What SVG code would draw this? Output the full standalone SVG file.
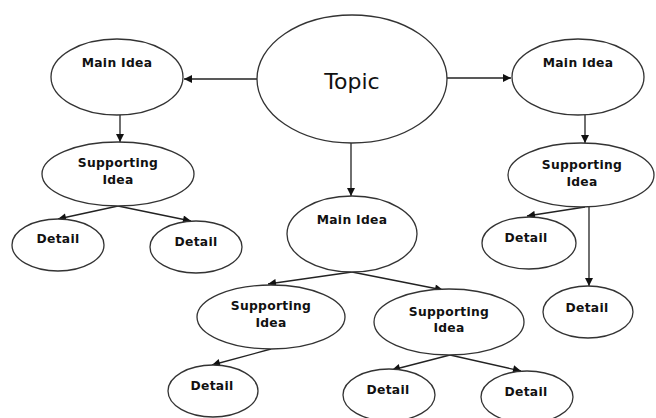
<svg xmlns="http://www.w3.org/2000/svg" width="656" height="418" viewBox="0 0 656 418">
<defs>
<marker id="ah" viewBox="0 0 10 10" refX="10" refY="5" markerWidth="9" markerHeight="8" markerUnits="userSpaceOnUse" orient="auto">
<path d="M0,0 L10,5 L0,10 z" fill="#111"/>
</marker>
<style>
ellipse{fill:#fff;stroke:#333;stroke-width:1.3}
text{font-family:"DejaVu Sans",Verdana,sans-serif;font-weight:bold;font-size:12.3px;letter-spacing:0.3px;fill:#111;text-anchor:middle}
.topic{font-weight:normal;font-size:22px;letter-spacing:0}
#edges line{stroke:#222;stroke-width:1.3;marker-end:url(#ah)}
</style>
</defs>
<rect width="656" height="418" fill="#fff"/>
<g id="edges">
<line x1="257" y1="79" x2="184" y2="79"/>
<line x1="447" y1="78" x2="511" y2="78"/>
<line x1="120" y1="115" x2="120" y2="142"/>
<line x1="585" y1="115" x2="585" y2="143"/>
<line x1="351" y1="143" x2="351" y2="196"/>
<line x1="118" y1="206" x2="58" y2="219"/>
<line x1="118" y1="206" x2="191" y2="221"/>
<line x1="585" y1="207" x2="527" y2="216"/>
<line x1="589" y1="207" x2="589" y2="286"/>
<line x1="352" y1="272" x2="268" y2="284"/>
<line x1="352" y1="272" x2="443" y2="290"/>
<line x1="271" y1="349" x2="212" y2="365"/>
<line x1="450" y1="355" x2="392" y2="370"/>
<line x1="450" y1="355" x2="521" y2="371"/>
</g>
<g id="topic"><ellipse cx="352" cy="79" rx="95" ry="64"/><text class="topic" x="352" y="89">Topic</text></g>
<g id="main-left"><ellipse cx="117" cy="77" rx="66" ry="38"/><text x="117" y="67">Main Idea</text></g>
<g id="main-right"><ellipse cx="578" cy="77" rx="66" ry="38"/><text x="578" y="67">Main Idea</text></g>
<g id="main-center"><ellipse cx="352" cy="234" rx="65" ry="38"/><text x="352" y="224">Main Idea</text></g>
<g id="support-left"><ellipse cx="118" cy="174" rx="76" ry="32"/><text x="118" y="167">Supporting</text><text x="118" y="184">Idea</text></g>
<g id="support-right"><ellipse cx="581" cy="175" rx="73" ry="32"/><text x="582" y="169">Supporting</text><text x="582" y="186">Idea</text></g>
<g id="support-center-left"><ellipse cx="271" cy="317" rx="74" ry="32"/><text x="271" y="310">Supporting</text><text x="271" y="327">Idea</text></g>
<g id="support-center-right"><ellipse cx="449" cy="322" rx="75" ry="33"/><text x="449" y="316">Supporting</text><text x="449" y="332">Idea</text></g>
<g id="detail-1"><ellipse cx="58" cy="245" rx="46" ry="26"/><text x="58" y="243">Detail</text></g>
<g id="detail-2"><ellipse cx="196" cy="247" rx="46" ry="26"/><text x="196" y="246">Detail</text></g>
<g id="detail-3"><ellipse cx="529" cy="243" rx="47" ry="26"/><text x="526" y="242">Detail</text></g>
<g id="detail-4"><ellipse cx="588" cy="312" rx="45" ry="26"/><text x="587" y="312">Detail</text></g>
<g id="detail-5"><ellipse cx="213" cy="391" rx="45" ry="26"/><text x="212" y="390">Detail</text></g>
<g id="detail-6"><ellipse cx="389" cy="395" rx="46" ry="26"/><text x="388" y="394">Detail</text></g>
<g id="detail-7"><ellipse cx="527" cy="397" rx="46" ry="26"/><text x="526" y="396">Detail</text></g>
</svg>
